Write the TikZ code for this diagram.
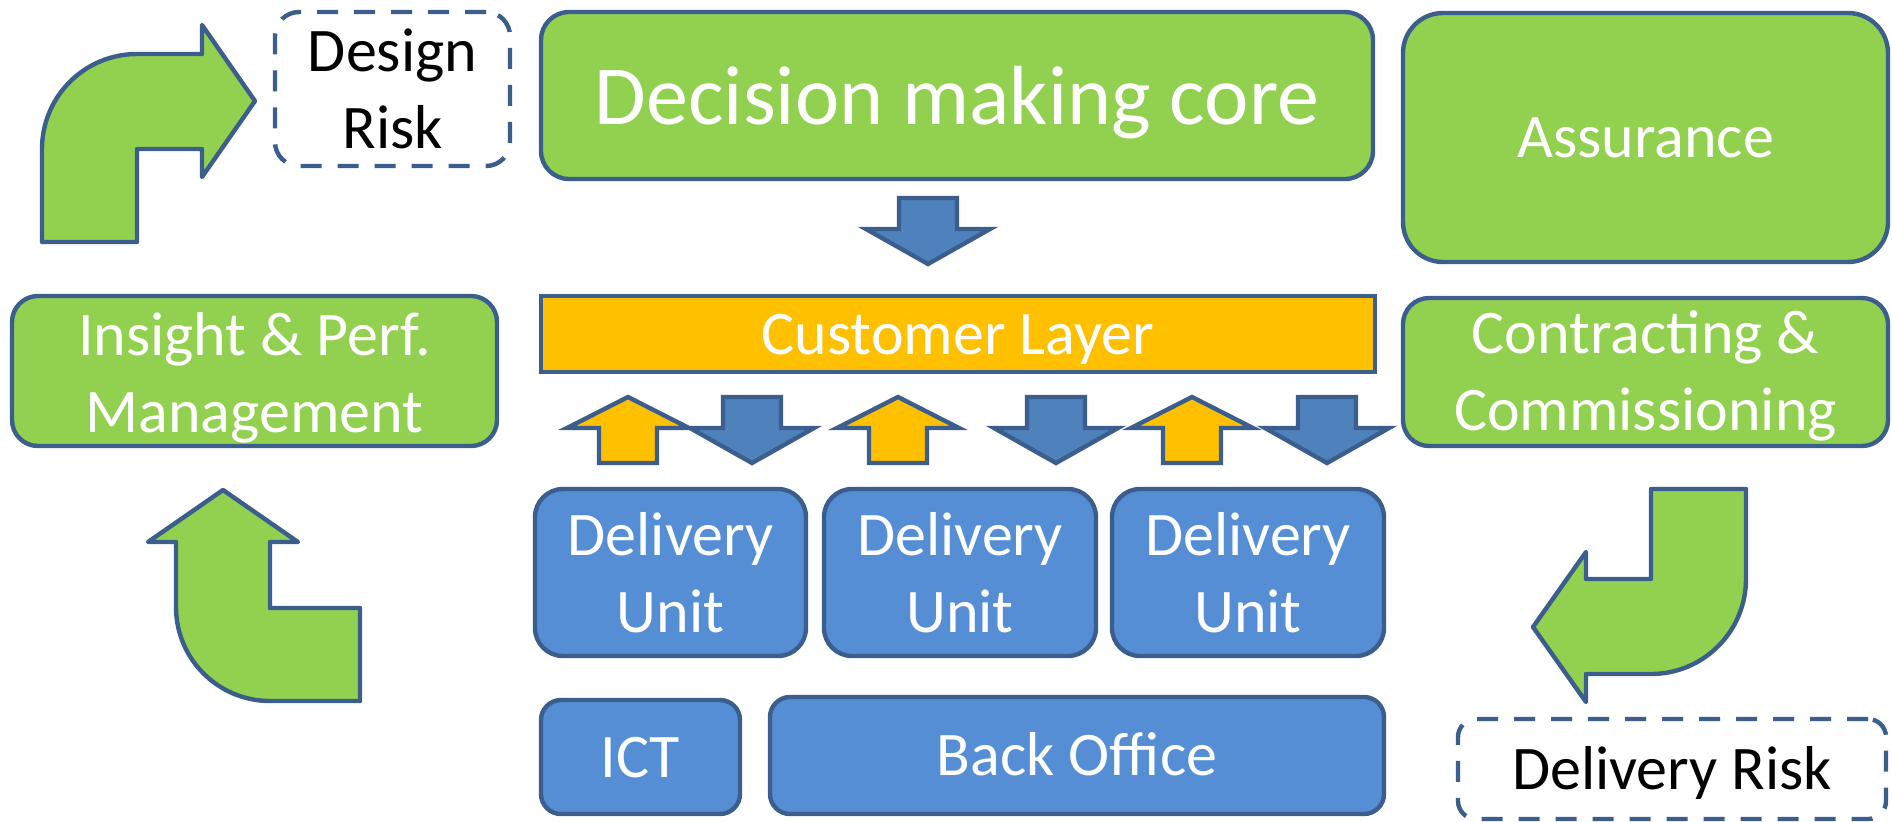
\documentclass[tikz,border=0pt]{standalone}
\usepackage{fontspec}
\setmainfont{Carlito}
\definecolor{gfill}{HTML}{92D050}
\definecolor{bline}{HTML}{3B5E8C}
\definecolor{bfill}{HTML}{558ED5}
\definecolor{afill}{HTML}{4F81BD}
\definecolor{ofill}{HTML}{FFC000}
\tikzset{
  box/.style={draw=bline, line width=2.2pt, text=white, align=center, inner sep=0pt,
    font=\fontsize{31}{38.5}\selectfont},
  gbox/.style={box, fill=gfill},
  bbox/.style={box, fill=bfill},
  riskbox/.style={box, text=black, fill=white, dash pattern=on 10.5pt off 8pt},
  oneline/.style={text height=20pt, text depth=0pt},
  blockarrow/.style={draw=bline, line width=2.2pt, line join=miter},
  bentarrow/.style={draw=bline, fill=gfill, line width=2.2pt, line join=round},
  downarr/.pic={\path[blockarrow, fill=afill] (-29,0) -- (29,0) -- (29,31) -- (62,31) -- (0,66) -- (-62,31) -- (-29,31) -- cycle;},
  uparr/.pic={\path[blockarrow, fill=ofill] (0,0) -- (61,31) -- (29,31) -- (29,66) -- (-29,66) -- (-29,31) -- (-61,31) -- cycle;}
}
\begin{document}
\begin{tikzpicture}[x=0.5pt,y=-0.5pt]
\useasboundingbox (0,0) rectangle (1892,821);

% green boxes
\node[gbox, minimum width=416pt, minimum height=83.5pt, rounded corners=14pt,
  font=\fontsize{42}{50}\selectfont, text height=28.5pt, text depth=0pt] (core) at (957,95.5) {Decision making core};
\node[gbox, oneline, minimum width=242.5pt, minimum height=124.5pt, rounded corners=20pt] (assur) at (1645.5,137.5) {Assurance};
\node[gbox, minimum width=242.5pt, minimum height=74pt, rounded corners=13pt] (contr) at (1645.5,372) {};
\node[box, draw=none, fill=none, yshift=-2pt] (contrtext) at (contr.center) {Contracting \&\\Commissioning};
\node[gbox, minimum width=242.5pt, minimum height=75pt, rounded corners=13pt] (insight) at (254.5,371) {};
\node[box, draw=none, fill=none, yshift=-3.5pt] (insighttext) at (insight.center) {Insight \& Perf.\\Management};

% customer layer
\node[box, oneline, fill=ofill, minimum width=417pt, minimum height=38pt] (cust) at (958,334) {Customer Layer};

% risk boxes
\node[riskbox, minimum width=117.5pt, minimum height=77pt, rounded corners=12pt] (drisk) at (392.5,89) {Design\\Risk};
\node[riskbox, oneline, minimum width=214pt, minimum height=50pt, rounded corners=9pt] (dlrisk) at (1672,769) {Delivery Risk};

% delivery units
\node[bbox, minimum width=135.5pt, minimum height=83.5pt, rounded corners=14pt] (du1) at (670.5,572.5) {Delivery\\Unit};
\node[bbox, minimum width=136pt, minimum height=83.5pt, rounded corners=14pt] (du2) at (960,572.5) {Delivery\\Unit};
\node[bbox, minimum width=136pt, minimum height=83.5pt, rounded corners=14pt] (du3) at (1248,572.5) {Delivery\\Unit};

% bottom row
\node[bbox, oneline, minimum width=99.5pt, minimum height=57pt, rounded corners=10pt] (ict) at (640.5,757) {ICT};
\node[bbox, oneline, minimum width=307pt, minimum height=58.5pt, rounded corners=10pt] (back) at (1077,755.5) {Back Office};

% block arrows
\pic at (928,198) {downarr};
\pic at (628,397) {uparr};
\pic at (752,397) {downarr};
\pic at (898,397) {uparr};
\pic at (1056,397) {downarr};
\pic at (1192,397) {uparr};
\pic at (1327,397) {downarr};

% bent arrows
\path[bentarrow] (42,242) -- (42,149) arc[start angle=180, end angle=270, radius=95]
  -- (202,54) -- (202,25) -- (255,101) -- (202,177) -- (202,149) -- (137,149) -- (137,242) -- cycle;
\path[bentarrow] (223,490) -- (298,542) -- (270,542) -- (270,608) -- (360,608) -- (360,701)
  -- (270,701) arc[start angle=90, end angle=180, radius=94] -- (176,542) -- (148,542) -- cycle;
\path[bentarrow] (1651,489) -- (1746,489) -- (1746,579) arc[start angle=0, end angle=90, radius=95]
  -- (1586,674) -- (1586,702) -- (1533,627) -- (1586,552) -- (1586,579) -- (1651,579) -- cycle;
\end{tikzpicture}
\end{document}
